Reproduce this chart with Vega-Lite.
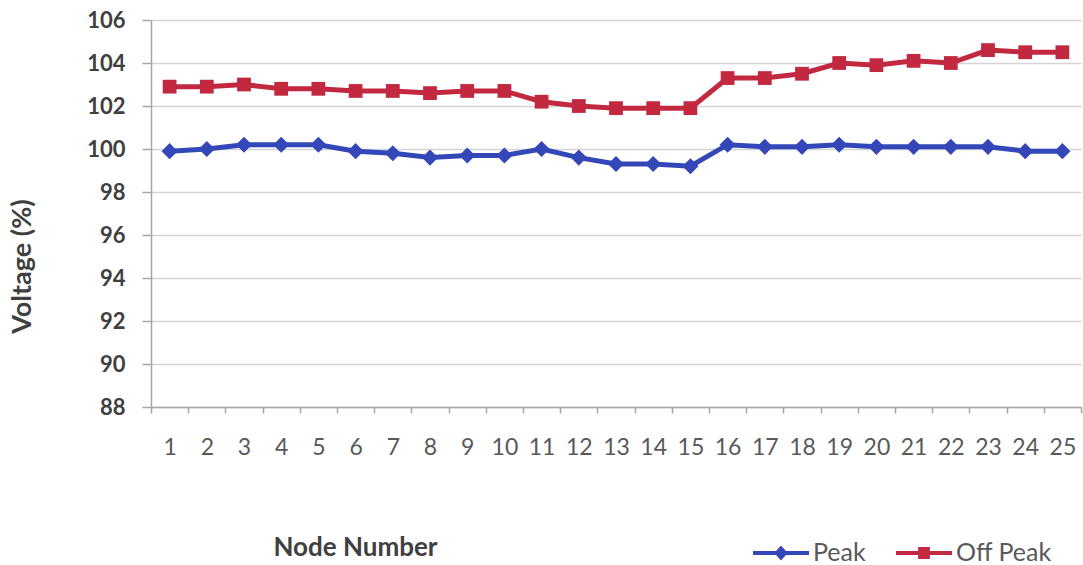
{
  "$schema": "https://vega.github.io/schema/vega-lite/v6.json",
  "autosize": {"type": "none"},
  "padding": {"left": 151, "top": 20, "right": 2, "bottom": 158},
  "width": 930,
  "height": 387,
  "background": "white",
  "config": {
    "font": "Lato",
    "view": {"stroke": null}
  },
  "data": {
    "values": [
      {"node": 1, "series": "Peak", "voltage": 99.9},
      {"node": 2, "series": "Peak", "voltage": 100.0},
      {"node": 3, "series": "Peak", "voltage": 100.2},
      {"node": 4, "series": "Peak", "voltage": 100.2},
      {"node": 5, "series": "Peak", "voltage": 100.2},
      {"node": 6, "series": "Peak", "voltage": 99.9},
      {"node": 7, "series": "Peak", "voltage": 99.8},
      {"node": 8, "series": "Peak", "voltage": 99.6},
      {"node": 9, "series": "Peak", "voltage": 99.7},
      {"node": 10, "series": "Peak", "voltage": 99.7},
      {"node": 11, "series": "Peak", "voltage": 100.0},
      {"node": 12, "series": "Peak", "voltage": 99.6},
      {"node": 13, "series": "Peak", "voltage": 99.3},
      {"node": 14, "series": "Peak", "voltage": 99.3},
      {"node": 15, "series": "Peak", "voltage": 99.2},
      {"node": 16, "series": "Peak", "voltage": 100.2},
      {"node": 17, "series": "Peak", "voltage": 100.1},
      {"node": 18, "series": "Peak", "voltage": 100.1},
      {"node": 19, "series": "Peak", "voltage": 100.2},
      {"node": 20, "series": "Peak", "voltage": 100.1},
      {"node": 21, "series": "Peak", "voltage": 100.1},
      {"node": 22, "series": "Peak", "voltage": 100.1},
      {"node": 23, "series": "Peak", "voltage": 100.1},
      {"node": 24, "series": "Peak", "voltage": 99.9},
      {"node": 25, "series": "Peak", "voltage": 99.9},
      {"node": 1, "series": "Off Peak", "voltage": 102.9},
      {"node": 2, "series": "Off Peak", "voltage": 102.9},
      {"node": 3, "series": "Off Peak", "voltage": 103.0},
      {"node": 4, "series": "Off Peak", "voltage": 102.8},
      {"node": 5, "series": "Off Peak", "voltage": 102.8},
      {"node": 6, "series": "Off Peak", "voltage": 102.7},
      {"node": 7, "series": "Off Peak", "voltage": 102.7},
      {"node": 8, "series": "Off Peak", "voltage": 102.6},
      {"node": 9, "series": "Off Peak", "voltage": 102.7},
      {"node": 10, "series": "Off Peak", "voltage": 102.7},
      {"node": 11, "series": "Off Peak", "voltage": 102.2},
      {"node": 12, "series": "Off Peak", "voltage": 102.0},
      {"node": 13, "series": "Off Peak", "voltage": 101.9},
      {"node": 14, "series": "Off Peak", "voltage": 101.9},
      {"node": 15, "series": "Off Peak", "voltage": 101.9},
      {"node": 16, "series": "Off Peak", "voltage": 103.3},
      {"node": 17, "series": "Off Peak", "voltage": 103.3},
      {"node": 18, "series": "Off Peak", "voltage": 103.5},
      {"node": 19, "series": "Off Peak", "voltage": 104.0},
      {"node": 20, "series": "Off Peak", "voltage": 103.9},
      {"node": 21, "series": "Off Peak", "voltage": 104.1},
      {"node": 22, "series": "Off Peak", "voltage": 104.0},
      {"node": 23, "series": "Off Peak", "voltage": 104.6},
      {"node": 24, "series": "Off Peak", "voltage": 104.5},
      {"node": 25, "series": "Off Peak", "voltage": 104.5}
    ]
  },
  "encoding": {
    "x": {
      "field": "node",
      "type": "ordinal",
      "scale": {"type": "band", "paddingInner": 0, "paddingOuter": 0},
      "axis": {
        "title": "Node Number",
        "titleFont": "Lato",
        "titleFontSize": 26,
        "titleFontWeight": "bold",
        "titleColor": "#404040",
        "titleX": 204,
        "titleY": 140,
        "titleAnchor": "middle",
        "titleAlign": "center",
        "titleBaseline": "middle",
        "labelAngle": 0,
        "labelFontSize": 23,
        "labelColor": "#595959",
        "labelPadding": 23,
        "domainColor": "#a6a6a6",
        "domainWidth": 1.5,
        "tickColor": "#a6a6a6",
        "tickSize": 6,
        "tickWidth": 1.5,
        "tickBand": "extent",
        "grid": false
      }
    },
    "y": {
      "field": "voltage",
      "type": "quantitative",
      "scale": {"domain": [88, 106], "nice": false, "zero": false},
      "axis": {
        "title": "Voltage (%)",
        "titleFont": "Lato",
        "titleFontSize": 27,
        "titleFontWeight": "bold",
        "titleColor": "#404040",
        "titleAngle": -90,
        "titleX": -129,
        "titleY": 246,
        "titleAlign": "center",
        "titleBaseline": "middle",
        "values": [88, 90, 92, 94, 96, 98, 100, 102, 104, 106],
        "labelFontSize": 22,
        "labelFontWeight": "bold",
        "labelColor": "#404040",
        "labelPadding": 17,
        "domainColor": "#a6a6a6",
        "domainWidth": 1.5,
        "tickColor": "#a6a6a6",
        "tickSize": 9,
        "tickWidth": 1.5,
        "grid": true,
        "gridColor": "#d4d4d8",
        "gridWidth": 1.5
      }
    },
    "color": {
      "field": "series",
      "type": "nominal",
      "scale": {"domain": ["Peak", "Off Peak"], "range": ["#3447b8", "#c2283f"]},
      "legend": {
        "title": null,
        "orient": "none",
        "direction": "horizontal",
        "legendX": 602,
        "legendY": 505,
        "symbolType": "M-1,-0.07L1,-0.07L1,0.07L-1,0.07Z",
        "symbolSize": 3136,
        "symbolStrokeWidth": 0,
        "symbolOpacity": 1,
        "labelFont": "Lato",
        "labelFontSize": 25,
        "labelColor": "#595959",
        "labelOffset": 4,
        "columnPadding": 30,
        "encode": {
          "symbols": {
            "update": {
              "shape": {"signal": "datum.value === 'Peak' ? 'M-1,-0.07L1,-0.07L1,0.07L-1,0.07Z M0,-0.27L0.24,0L0,0.27L-0.24,0Z' : 'M-1,-0.07L1,-0.07L1,0.07L-1,0.07Z M-0.21,-0.21L0.21,-0.21L0.21,0.21L-0.21,0.21Z'"},
              "size": {"value": 3136},
              "fill": {"signal": "datum.value === 'Peak' ? '#3447b8' : '#c2283f'"},
              "strokeWidth": {"value": 0}
            }
          }
        }
      }
    }
  },
  "layer": [
    {
      "mark": {"type": "line", "strokeWidth": 5}
    },
    {
      "transform": [{"filter": "datum.series === 'Peak'"}],
      "mark": {"type": "point", "filled": true, "opacity": 1, "shape": "diamond", "size": 260}
    },
    {
      "transform": [{"filter": "datum.series === 'Off Peak'"}],
      "mark": {"type": "point", "filled": true, "opacity": 1, "shape": "square", "size": 190}
    }
  ]
}
